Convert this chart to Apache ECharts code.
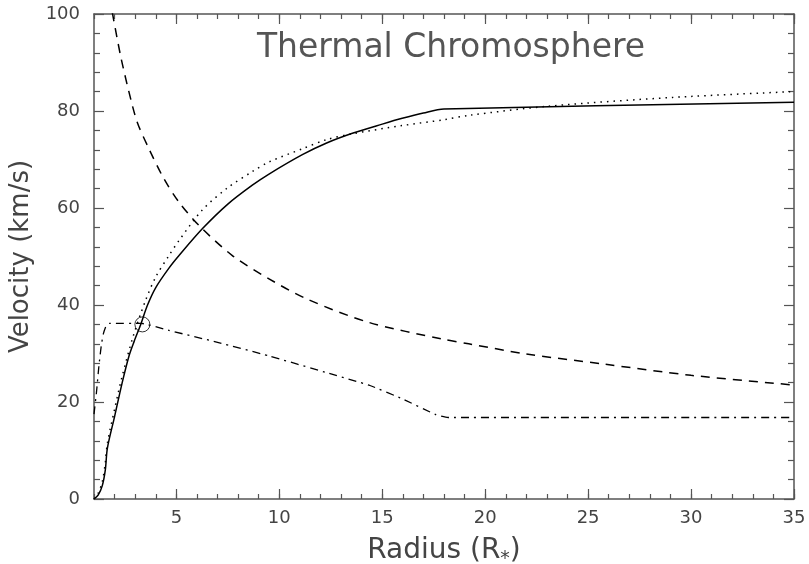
<!DOCTYPE html>
<html>
<head>
<meta charset="utf-8">
<script src="https://cdn.jsdelivr.net/npm/echarts@6/dist/echarts.min.js"></script>
<style>
  html, body { margin: 0; padding: 0; background: #fff; }
  #main { width: 809px; height: 564px; }
</style>
</head>
<body>
<div id="main"></div>
<script>
  // velocity profiles, [radius (R*), velocity (km/s)]
  var solidData = [[1.0,0],[1.2,0.8],[1.4,2.7],[1.55,6],[1.65,10.5],[2.0,17],[2.37,24],[2.7,29.5],[2.95,32.5],[3.27,36],[3.59,39.9],[4.0,43.6],[4.64,47.6],[5.13,50.2],[6.26,55.7],[7.5,60.8],[8.69,64.7],[9.5,67.0],[11.12,71.0],[12.3,73.4],[13.55,75.4],[15,77.3],[15.97,78.5],[17,79.6],[18,80.4],[35,81.8]];
  var dottedData = [[1.0,0],[1.2,1.2],[1.4,3.5],[1.55,7.5],[1.65,11.5],[2.0,18.5],[2.35,25],[2.9,33.5],[3.5,40.9],[4.0,45.8],[4.64,50.2],[5.13,53.3],[6.26,59.6],[7.5,64.2],[8.69,67.5],[9.5,69.5],[11.12,72.2],[12.3,74.1],[13.55,75.3],[15.97,77],[18,78.2],[19.2,79.1],[23.1,81],[29.1,82.8],[35,84]];
  var dashedData = [[1.89,100.3],[2.29,91.4],[2.7,83.9],[3.1,77.7],[3.67,72.2],[4.4,66],[5.13,61.2],[6.1,56.4],[7.72,50.2],[9.5,45.4],[11.36,41.2],[14.36,36.4],[17.9,33],[19.2,32],[22,29.9],[25.8,27.8],[30,25.5],[35,23.5]];
  var dashDotData = [[1,17.5],[1.12,22],[1.24,27.5],[1.35,31.5],[1.45,34],[1.6,35.8],[1.75,36.2],[3.3,36.2],[4.6,34.8],[7,32.3],[9.5,29.5],[12.25,26.1],[14.4,23.4],[16,20.6],[17.6,17.4],[18.2,16.8],[35,16.8]];
  var sonicPoint = [[3.35,36]];
  var xMajorTicks = [5,10,15,20,25,30,35];

  var axisColor = '#555';
  var textColor = '#444';
  var font = 'DejaVu Sans';

  function xAxisOf(pos, major) {
    return {
      type: 'value', position: pos, min: 1, max: 35, interval: 1,
      axisLine: { show: !major, lineStyle: { color: axisColor, width: 1.5 } },
      axisTick: major ? { inside: true, length: 10, customValues: xMajorTicks, lineStyle: { color: axisColor, width: 1.2 } }
                      : { inside: true, length: 5, lineStyle: { color: axisColor, width: 1.2 } },
      axisLabel: { show: false },
      splitLine: { show: false }
    };
  }
  function yAxisOf(pos) {
    return {
      type: 'value', position: pos, min: 0, max: 100, interval: 20,
      axisLine: { show: true, lineStyle: { color: axisColor, width: 1.5 } },
      axisTick: { inside: true, length: 10, lineStyle: { color: axisColor, width: 1.2 } },
      minorTick: { show: true, splitNumber: 5, length: 6, lineStyle: { color: axisColor, width: 1.2 } },
      axisLabel: { show: false },
      splitLine: { show: false }
    };
  }

  var xBottom = xAxisOf('bottom', false);
  xBottom.axisLabel = { show: true, customValues: xMajorTicks, fontSize: 18, color: textColor, fontFamily: font, margin: 10 };
  xBottom.name = '{a|Radius (R}{s|*}{a|)}';
  xBottom.nameLocation = 'middle';
  xBottom.nameGap = 30;
  xBottom.nameTextStyle = {
    rich: {
      a: { fontSize: 28, color: textColor, fontFamily: font, lineHeight: 32 },
      s: { fontSize: 19, color: textColor, fontFamily: font, lineHeight: 32, padding: [18, 0, 0, 0] }
    }
  };

  var yLeft = yAxisOf('left');
  yLeft.axisLabel = { show: true, fontSize: 18, color: textColor, fontFamily: font, margin: 14 };
  yLeft.name = 'Velocity (km/s)';
  yLeft.nameLocation = 'middle';
  yLeft.nameGap = 57;
  yLeft.nameTextStyle = { fontSize: 26, color: textColor, fontFamily: font };

  var chart = echarts.init(document.getElementById('main'), null, { renderer: 'canvas' });
  chart.setOption({
    backgroundColor: '#fff',
    animation: false,
    title: {
      text: 'Thermal Chromosphere',
      left: 446, top: 27, textAlign: 'center',
      textStyle: { fontSize: 33, fontWeight: 'normal', color: '#555', fontFamily: font }
    },
    grid: { left: 94, right: 15, top: 14, bottom: 65, containLabel: false, outerBoundsMode: 'none' },
    xAxis: [xBottom, xAxisOf('bottom', true), xAxisOf('top', false), xAxisOf('top', true)],
    yAxis: [yLeft, yAxisOf('right')],
    series: [
      { type: 'line', data: solidData, showSymbol: false, clip: true, smooth: 0.3,
        lineStyle: { color: '#000', width: 1.5, type: 'solid' } },
      { type: 'line', data: dottedData, showSymbol: false, clip: true, smooth: 0.3,
        lineStyle: { color: '#000', width: 1.5, type: [1.5, 5] } },
      { type: 'line', data: dashedData, showSymbol: false, clip: true, smooth: 0.3,
        lineStyle: { color: '#000', width: 1.5, type: [9, 7] } },
      { type: 'line', data: dashDotData, showSymbol: false, clip: true, smooth: 0.15,
        lineStyle: { color: '#000', width: 1.3, type: [8, 5, 2, 5] } },
      { type: 'scatter', data: sonicPoint, symbol: 'circle', symbolSize: 15,
        itemStyle: { color: 'rgba(0,0,0,0)', borderColor: '#000', borderWidth: 1 } }
    ]
  });
</script>
</body>
</html>
